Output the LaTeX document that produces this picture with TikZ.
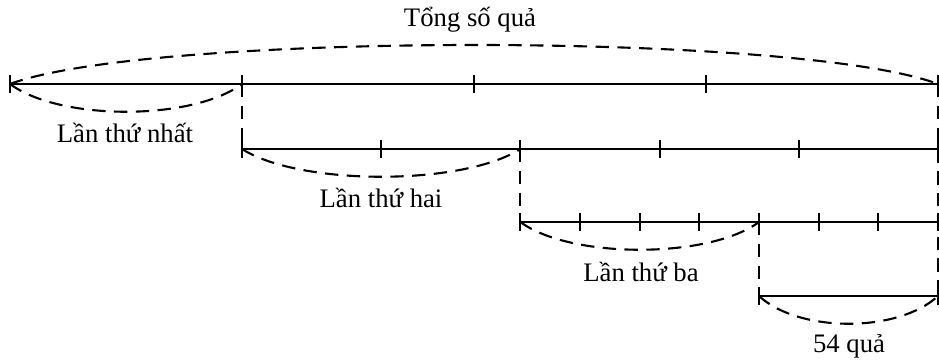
\documentclass[tikz,border=0pt]{standalone}
\usepackage{fontspec}
\setmainfont{Liberation Serif}
\usetikzlibrary{positioning, calc}
\tikzset{
  seg/.style={line width=1.5pt},
  dsh/.style={line width=1.5pt, dash pattern=on 9.5pt off 6pt},
  lbl/.style={font=\fontsize{19}{22}\selectfont, inner sep=0pt, anchor=base}
}
\begin{document}
\begin{tikzpicture}[x=0.025cm,y=-0.025cm]
  \useasboundingbox (0,0) rectangle (939,360);
  % the four bars
  \coordinate (a0) at (10,84);  \coordinate (a4) at (938,84);
  \foreach \i in {1,2,3} \coordinate (a\i) at ($(a0)!\i/4!(a4)$);
  \coordinate (b0) at (a1 |- 0,149);  \coordinate (b5) at (a4 |- 0,149);
  \foreach \i in {1,...,4} \coordinate (b\i) at ($(b0)!\i/5!(b5)$);
  \coordinate (c0) at (b2 |- 0,222);  \coordinate (c7) at (a4 |- 0,222);
  \foreach \i in {1,...,6} \coordinate (c\i) at ($(c0)!\i/7!(c7)$);
  \coordinate (d0) at (c4 |- 0,296);  \coordinate (d1) at (a4 |- 0,296);

  \draw[seg] (a0) -- (a4);
  \foreach \i in {0,...,4} \draw[seg] (a\i) +(0,-9) -- +(0,9);
  \draw[seg] (b0) -- (b5);
  \foreach \i in {0,...,5} \draw[seg] (b\i) +(0,-9) -- +(0,9);
  \draw[seg] (c0) -- (c7);
  \foreach \i in {0,...,7} \draw[seg] (c\i) +(0,-9) -- +(0,9);
  \draw[seg] (d0) -- (d1);
  \foreach \p in {d0,d1} \draw[seg] (\p) +(0,-9) -- +(0,9);

  % dashed drops
  \draw[dsh] (a1) -- (b0);
  \draw[dsh] (b2) -- (c0);
  \draw[dsh] (c4) -- (d0);
  \draw[dsh] (a4) -- (d1);

  % arcs
  \draw[dsh] (a0) .. controls (150,32) and (800,32) .. (a4);
  \draw[dsh] (a0) .. controls +(50,37) and +(-50,37) .. (a1);
  \draw[dsh] (b0) .. controls +(58,37) and +(-58,37) .. (b2);
  \draw[dsh] (c0) .. controls +(50,37) and +(-50,37) .. (c4);
  \draw[dsh] (d0) .. controls +(40,37) and +(-40,37) .. (d1);

  % labels
  \node[lbl] (tong) at (470,27) {Tổng số quả};
  \node[lbl] (lan1) at (125,143) {Lần thứ nhất};
  \node[lbl] (lan2) at (381,207) {Lần thứ hai};
  \node[lbl] (lan3) at (641,281) {Lần thứ ba};
  \node[lbl] (qua) at (849,352) {54 quả};
\end{tikzpicture}
\end{document}
